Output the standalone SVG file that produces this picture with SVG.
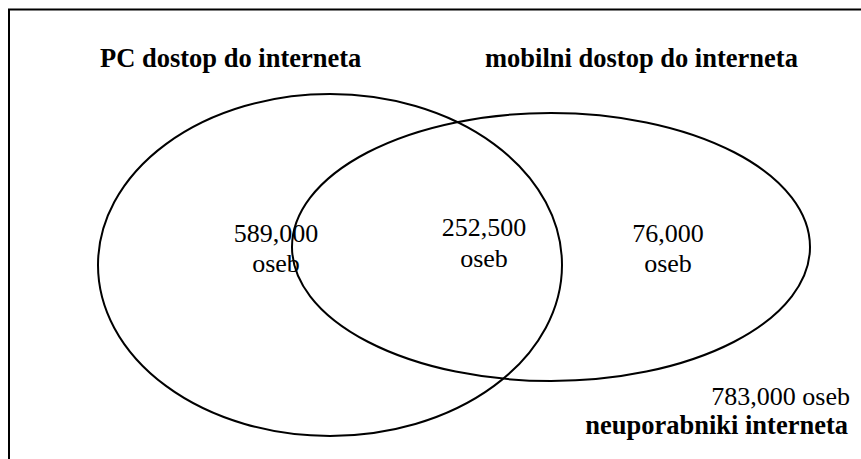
<svg xmlns="http://www.w3.org/2000/svg" width="861" height="459" viewBox="0 0 861 459">
<style>
.e{fill:none;stroke:#000;stroke-width:2}
.h{font-family:'Liberation Serif',serif;font-weight:bold;font-size:26.5px;fill:#000}
.n{font-family:'Liberation Serif',serif;font-size:26px;fill:#000;text-anchor:middle}
</style>
<rect width="861" height="459" fill="#fff"/>
<g id="frame"><path d="M9 459 V9.5 H861" fill="none" stroke="#000" stroke-width="2"/></g>
<g id="pc"><ellipse class="e" cx="330" cy="265" rx="232" ry="171"/>
<text class="h" x="100" y="67">PC dostop do interneta</text></g>
<g id="mobile"><ellipse class="e" cx="551" cy="247" rx="259" ry="134"/>
<text class="h" x="485" y="67">mobilni dostop do interneta</text></g>
<g id="pc-only"><text class="n" x="276" y="242">589,000</text><text class="n" x="276" y="272">oseb</text></g>
<g id="both"><text class="n" x="484" y="236">252,500</text><text class="n" x="484" y="267">oseb</text></g>
<g id="mobile-only"><text class="n" x="668" y="242">76,000</text><text class="n" x="668" y="272">oseb</text></g>
<g id="non-users"><text class="n" x="850" y="405" style="text-anchor:end">783,000 oseb</text>
<text class="h" x="848" y="434" style="text-anchor:end">neuporabniki interneta</text></g>
<g id="connectors"></g>
</svg>
